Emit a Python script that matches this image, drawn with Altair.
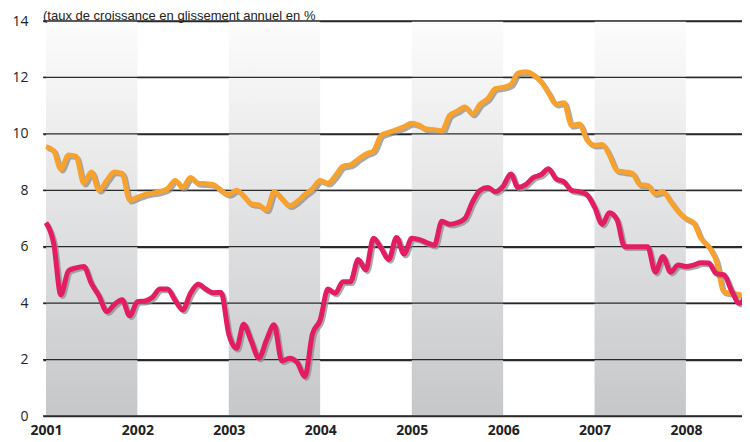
import altair as alt
import pandas as pd

# ---- data ----
band_years = [2001, 2003, 2005, 2007]
tick_years = [2001, 2002, 2003, 2004, 2005, 2006, 2007, 2008]
y_ticks = [0, 2, 4, 6, 8, 10, 12, 14]

orange = [
    9.55, 9.4, 8.75, 9.25, 9.2, 8.25, 8.65, 8.0, 8.35, 8.65, 8.6, 7.65,
    7.75, 7.85, 7.9, 7.95, 8.05, 8.35, 8.1, 8.45, 8.25, 8.23, 8.2, 8.0,
    7.85, 8.0, 7.8, 7.52, 7.48, 7.3, 7.95, 7.7, 7.45, 7.6, 7.85, 8.05,
    8.35, 8.25, 8.5, 8.85, 8.9, 9.1, 9.28, 9.4, 9.95, 10.05, 10.15, 10.25,
    10.38, 10.3, 10.17, 10.15, 10.11, 10.65, 10.8, 10.95, 10.7, 11.05, 11.25, 11.6,
    11.65, 11.75, 12.15, 12.2, 12.1, 11.85, 11.45, 11.05, 11.1, 10.3, 10.35, 9.8,
    9.6, 9.62, 9.25, 8.7, 8.65, 8.6, 8.2, 8.17, 7.88, 7.95, 7.6, 7.25,
    7.0, 6.85, 6.3, 6.0, 5.5, 4.4, 4.35, 4.3, 4.15,
]
red = [
    6.85, 6.1, 4.3, 5.15, 5.25, 5.3, 4.7, 4.25, 3.7, 3.95, 4.12, 3.55,
    4.05, 4.08, 4.2, 4.5, 4.5, 4.1, 3.76, 4.35, 4.67, 4.5, 4.37, 4.38,
    2.9, 2.4, 3.25, 2.65, 2.05, 2.7, 3.23, 1.95, 2.05, 1.9, 1.4, 2.9,
    3.4, 4.5, 4.35, 4.76, 4.76, 5.55, 5.18, 6.3, 5.94, 5.55, 6.33, 5.74,
    6.3, 6.25, 6.15, 6.05, 6.9, 6.8, 6.85, 7.0, 7.6, 8.0, 8.1, 7.95,
    8.15, 8.58, 8.1, 8.2, 8.45, 8.55, 8.76, 8.4, 8.3, 8.0, 7.95, 7.85,
    7.4, 6.8, 7.2, 6.95, 6.0, 6.0, 6.0, 6.0, 5.1, 5.65, 5.1, 5.35,
    5.3, 5.35, 5.43, 5.42, 5.05, 5.0, 4.45, 4.0, 4.35,
]

dates = pd.date_range("2001-01-01", periods=len(orange), freq="MS")
lines = pd.DataFrame({"date": dates, "orange": orange, "red": red})
bands = pd.DataFrame({
    "start": [pd.Timestamp(f"{y}-01-01") for y in band_years],
    "end": [pd.Timestamp(f"{y + 1}-01-01") for y in band_years],
})

FONT = "Open Sans"

x_scale = alt.Scale(domain=[alt.DateTime(year=2000, month=12, date=20),
                            alt.DateTime(year=2008, month=8, date=12)])
y_scale = alt.Scale(domain=[0, 14])

x_axis = alt.Axis(
    values=[alt.DateTime(year=y, month=1, date=1) for y in tick_years],
    format="%Y", title=None, grid=False, ticks=False, domain=False,
    labelFontSize=14, labelFontWeight="bold", labelColor="#222222",
    labelFont=FONT, labelPadding=7, labelFlush=False,
)
y_axis = alt.Axis(
    values=y_ticks, title=None, grid=True, gridColor="#2a2a2a", gridWidth=1.3,
    ticks=False, domain=False, labelFontSize=14, labelColor="#222222",
    labelFont=FONT, labelPadding=15,
)

gradient = alt.Gradient(
    gradient="linear",
    stops=[alt.GradientStop(color="#FCFCFC", offset=0),
           alt.GradientStop(color="#C6C7C9", offset=1)],
    x1=0, x2=0, y1=0, y2=1,
)

band_layer = alt.Chart(bands).mark_rect(fill=gradient).encode(
    x=alt.X("start:T", scale=x_scale, axis=x_axis),
    x2="end:T",
    y=alt.Y(datum=14, scale=y_scale, axis=y_axis),
    y2=alt.Y2(datum=0),
)

grid_layer = alt.Chart(pd.DataFrame({"v": y_ticks})).mark_rule(
    color="#2a2a2a", strokeWidth=1.3
).encode(y=alt.Y("v:Q", scale=y_scale, axis=y_axis))


def series(col, color):
    base = alt.Chart(lines).encode(
        x=alt.X("date:T", scale=x_scale, axis=x_axis),
        y=alt.Y(f"{col}:Q", scale=y_scale, axis=y_axis),
    )
    shadow = base.mark_line(color="#8c8c8c", strokeWidth=5, opacity=0.75,
                            xOffset=1.8, yOffset=1.8, strokeJoin="round",
                            interpolate="monotone")
    main = base.mark_line(color=color, strokeWidth=5, strokeJoin="round",
                          interpolate="monotone")
    return shadow + main


chart = alt.layer(
    band_layer,
    grid_layer,
    series("orange", "#F7A12E"),
    series("red", "#E31D62"),
).properties(
    width=699,
    height=395,
    padding={"left": 35, "top": 13, "right": 0, "bottom": 26},
    autosize=alt.AutoSizeParams(type="none"),
    title=alt.Title(
        "(taux de croissance en glissement annuel en %",
        anchor="start", frame="group", fontSize=13, fontWeight="normal",
        font="Liberation Sans", color="#222222", offset=4, dy=13,
    ),
).configure_view(stroke=None)

chart.save("out.html", embed_options={"renderer": "svg", "actions": False})
